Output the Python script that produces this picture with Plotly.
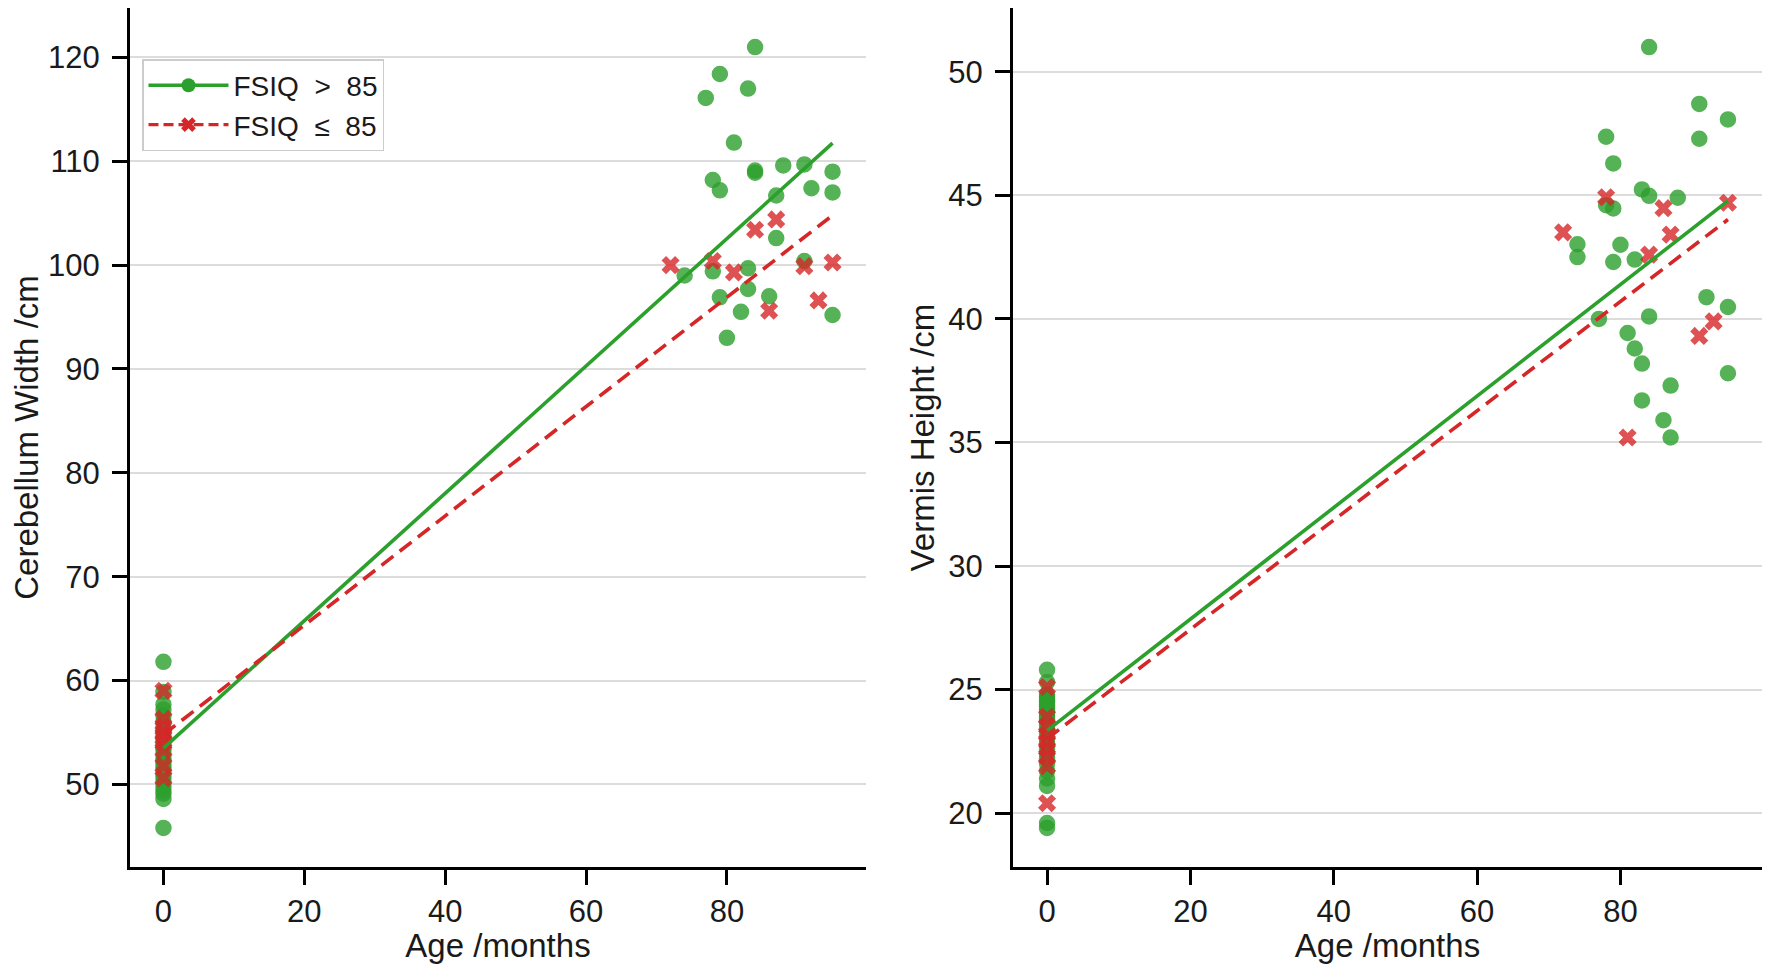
import numpy as np
import plotly.graph_objects as go

# ---------------- data ----------------
# Cerebellum width (left panel)
cw_hi_birth = [61.8, 58.9, 57.7, 57.2, 56.6, 56.0, 55.5, 55.1, 54.7, 54.4, 54.0, 53.6, 53.3,
               52.9, 52.5, 52.2, 51.8, 51.4, 51.0, 50.6, 50.2, 49.8, 49.4, 49.1, 48.6, 45.8]
cw_hi_age = [84, 79, 77, 83, 81, 78, 79, 84, 84, 88, 91, 95, 95, 92, 87, 87, 74, 78, 83, 83,
             79, 86, 82, 80, 91, 95]
cw_hi_val = [121.0, 118.4, 116.1, 117.0, 111.8, 108.2, 107.2, 108.9, 109.1, 109.6, 109.7, 109.0,
             107.0, 107.4, 106.7, 102.6, 99.0, 99.4, 99.7, 97.7, 96.9, 97.0, 95.5, 93.0, 100.4, 95.2]
cw_lo_birth = [59.0, 56.3, 55.6, 55.0, 54.5, 54.0, 53.3, 51.8, 50.6]
cw_lo_age = [72, 78, 81, 84, 87, 91, 95, 86, 93]
cw_lo_val = [100.0, 100.4, 99.3, 103.4, 104.4, 99.9, 100.25, 95.6, 96.6]

# Vermis height (right panel)
vh_hi_birth = [25.8, 25.3, 24.8, 24.7, 24.6, 24.5, 24.4, 24.3, 24.2, 24.1, 24.0, 23.9, 23.8, 23.7,
               23.6, 23.4, 23.2, 23.0, 22.8, 22.6, 22.4, 22.2, 22.0, 21.7, 21.4, 21.1, 19.6, 19.4]
vh_hi_age = [84, 91, 95, 91, 78, 79, 83, 84, 88, 78, 79, 74, 74, 80, 79, 82, 77, 84, 92, 95,
             81, 82, 83, 87, 95, 83, 86, 87]
vh_hi_val = [51.0, 48.7, 48.07, 47.29, 47.37, 46.29, 45.24, 44.98, 44.9, 44.6, 44.47, 43.02, 42.5,
             43.0, 42.3, 42.4, 40.0, 40.1, 40.88, 40.48, 39.43, 38.8, 38.19, 37.3, 37.8, 36.7, 35.9, 35.2]
vh_lo_birth = [25.1, 23.9, 23.5, 23.2, 22.9, 22.6, 22.3, 21.9, 20.4]
vh_lo_age = [72, 78, 86, 87, 84, 95, 91, 93, 81]
vh_lo_val = [43.5, 44.92, 44.48, 43.41, 42.6, 44.7, 39.31, 39.9, 35.2]

left_yticks = [50, 60, 70, 80, 90, 100, 110, 120]
right_yticks = [20, 25, 30, 35, 40, 45, 50]
xticks = [0, 20, 40, 60, 80]

legend_hi = "FSIQ  >  85"
legend_lo = "FSIQ  ≤  85"

GREEN = "#2ca02c"
RED = "#d62728"
FONT = "Liberation Sans, Arial, sans-serif"
TXT = "#1a1a1a"


def combine(birth, ages, vals):
    x = np.array([0.0] * len(birth) + list(ages), dtype=float)
    y = np.array(list(birth) + list(vals), dtype=float)
    return x, y


fig = go.Figure()

panels = [
    ("x", "y", (cw_hi_birth, cw_hi_age, cw_hi_val), (cw_lo_birth, cw_lo_age, cw_lo_val)),
    ("x2", "y2", (vh_hi_birth, vh_hi_age, vh_hi_val), (vh_lo_birth, vh_lo_age, vh_lo_val)),
]

ranges = []
for xa, ya, hi, lo in panels:
    allx, ally = [], []
    for grp, color, sym, size in [(hi, GREEN, "circle", 15), (lo, RED, "x", 16)]:
        x, y = combine(*grp)
        allx += list(x)
        ally += list(y)
        fig.add_trace(go.Scatter(
            x=x, y=y, mode="markers", xaxis=xa, yaxis=ya, showlegend=False,
            marker=dict(symbol=sym, size=size, color=color, opacity=0.8,
                        line=dict(width=1.5 if sym == "circle" else 0, color=color)),
            hoverinfo="skip"))
    for grp, color, dash in [(hi, GREEN, "solid"), (lo, RED, "15px,8px")]:
        x, y = combine(*grp)
        k, b = np.polyfit(x, y, 1)
        xs = np.array([x.min(), x.max()])
        fig.add_trace(go.Scatter(
            x=xs, y=k * xs + b, mode="lines", xaxis=xa, yaxis=ya, showlegend=False,
            line=dict(color=color, width=3.6, dash=dash),
            hoverinfo="skip"))
    ax0, ax1 = min(allx), max(allx)
    ay0, ay1 = min(ally), max(ally)
    px, py = 0.05 * (ax1 - ax0), 0.05 * (ay1 - ay0)
    ranges.append(([ax0 - px, ax1 + px], [ay0 - py, ay1 + py]))

# legend entries
fig.add_trace(go.Scatter(x=[None], y=[None], mode="lines+markers", name=legend_hi,
                         line=dict(color=GREEN, width=3.4),
                         marker=dict(symbol="circle", size=14, color=GREEN)))
fig.add_trace(go.Scatter(x=[None], y=[None], mode="lines+markers", name=legend_lo,
                         line=dict(color=RED, width=3.4, dash="10px,5px"),
                         marker=dict(symbol="x", size=13, color=RED, line=dict(width=0))))

# page has an 8px body margin; figure is placed at (8, 8) in the window
W, H = 1754, 956
ydom = [1 - 859 / H, 1.0]

tickfont = dict(size=31, color=TXT, family=FONT)
titlefont = dict(size=33, color=TXT, family=FONT)

common_x = dict(showgrid=False, zeroline=False, showline=True, linecolor="black", linewidth=3,
                ticks="outside", ticklen=15, tickwidth=2.5, tickcolor="black",
                tickvals=xticks, tickfont=tickfont,
                title=dict(text="Age /months", font=titlefont, standoff=4))
common_y = dict(showgrid=True, gridcolor="#dcdcdc", gridwidth=1.5, zeroline=False, showline=True,
                linecolor="black", linewidth=3, ticks="outside", ticklen=15, tickwidth=2.5,
                tickcolor="black", tickfont=tickfont, ticklabelstandoff=6)

fig.update_layout(
    width=W, height=H,
    margin=dict(l=0, r=0, t=0, b=0),
    paper_bgcolor="white", plot_bgcolor="white",
    font=dict(family=FONT, color=TXT),
    xaxis=dict(common_x, domain=[122 / W, 858 / W], range=ranges[0][0], anchor="y"),
    yaxis=dict(common_y, domain=ydom, range=ranges[0][1], tickvals=left_yticks, anchor="x",
               title=dict(text="Cerebellum Width /cm", font=titlefont, standoff=4)),
    xaxis2=dict(common_x, domain=[1005 / W, 1.0], range=ranges[1][0], anchor="y2"),
    yaxis2=dict(common_y, domain=ydom, range=ranges[1][1], tickvals=right_yticks, anchor="x2",
                title=dict(text="Vermis Height /cm", font=titlefont, standoff=4)),
    legend=dict(x=134 / W, y=1 - 51 / H, xanchor="left", yanchor="top",
                bgcolor="white", bordercolor="#cccccc", borderwidth=1.5,
                font=dict(size=28, color=TXT, family=FONT), itemwidth=80),
    showlegend=True,
)

fig.write_html("out.html")
